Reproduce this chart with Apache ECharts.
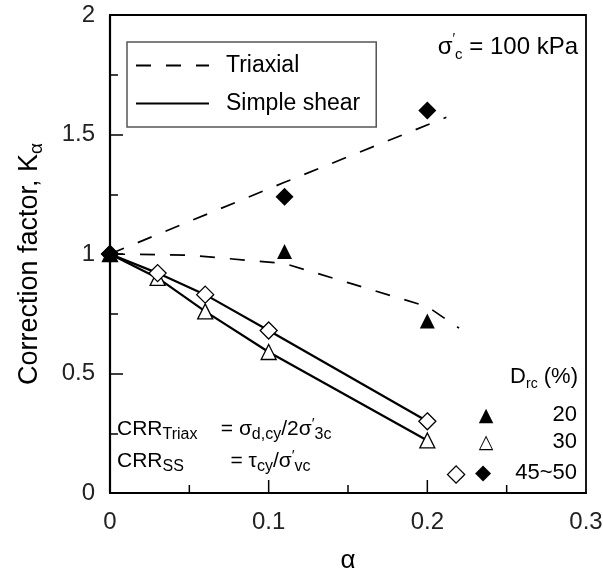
<!DOCTYPE html>
<html>
<head>
<meta charset="utf-8">
<script src="https://cdn.jsdelivr.net/npm/echarts@6/dist/echarts.min.js"></script>
<style>
  html, body { margin: 0; padding: 0; background: #fff; }
  #chart { width: 603px; height: 572px; }
</style>
</head>
<body>
<div id="chart"></div>
<script>
// 数据
const xTicks = [0, 0.1, 0.2, 0.3]
const yTicks = [0, 0.5, 1, 1.5, 2]
// x轴内侧刻度位置（主刻度 0.1/0.2，次刻度 0.05/0.15/0.25）
const xTickMarks = [0.05, 0.1, 0.15, 0.2, 0.25]

// simple shear points + lines
const ssAlpha = [0, 0.03, 0.06, 0.1, 0.2]
const ssDiamond = [1, 0.92, 0.83, 0.68, 0.30]   // D_rc 45~50, open diamond
const ssTriangle = [1, 0.90, 0.76, 0.59, 0.22]  // D_rc 30, open triangle

// triaxial points
const txAlpha = [0, 0.11, 0.2]
const txTriangle = [1, 1.01, 0.72]  // D_rc 20
const txDiamond = [1, 1.24, 1.60]   // D_rc 45~50

// triaxial dashed trend lines
const txUpAlpha = [0, 0.11, 0.212]
const txUpK = [1, 1.30, 1.572]
const txLowAlpha = [0, 0.05, 0.11, 0.15, 0.2, 0.22]
const txLowK = [1, 0.995, 0.96, 0.88, 0.78, 0.69]

const pairs = (xs, ys) => xs.map((x, i) => [x, ys[i]])

const FONT = 'Liberation Sans'
const C = '#000'
// 富文本：正文 / 下标 / 撇号
const makeRich = (main, sub) => ({
  m: { fontSize: main, fontFamily: FONT, color: C, lineHeight: main + 6 },
  s: { fontSize: sub, fontFamily: FONT, color: C, lineHeight: 10, verticalAlign: 'bottom' },
  p: { fontSize: sub - 1, fontFamily: FONT, color: C, lineHeight: 10, verticalAlign: 'top' }
})

const dashStyle = { color: C, width: 1.7, type: [15, 15] }
const solidStyle = { color: C, width: 2.2 }

const option = {
  animation: false,
  grid: {
    left: 110, right: 17, top: 15, bottom: 79,
    outerBoundsMode: 'none',
    show: true, borderColor: C, borderWidth: 1.8
  },
  legend: {
    data: ['Triaxial', 'Simple shear'],
    orient: 'vertical',
    left: 127, top: 42,
    itemWidth: 73, itemHeight: 14, itemGap: 15,
    padding: [12, 16, 12, 8],
    borderColor: '#555', borderWidth: 1.5,
    itemStyle: { opacity: 0 },
    textStyle: { fontSize: 23, fontFamily: FONT, color: C, padding: [0, 0, 0, 12] }
  },
  xAxis: {
    type: 'value', min: 0, max: 0.3, interval: 0.1,
    name: 'α', nameLocation: 'middle', nameGap: 55,
    nameTextStyle: { fontSize: 26, fontFamily: FONT, color: C },
    axisLine: { onZero: false, lineStyle: { color: C, width: 2.2 } },
    axisTick: { show: false },
    splitLine: { show: false },
    axisLabel: { fontSize: 24, fontFamily: FONT, color: '#222', margin: 17,
      formatter: v => xTicks.includes(+v.toFixed(2)) ? String(+v.toFixed(2)) : '' }
  },
  yAxis: {
    type: 'value', min: 0, max: 2, interval: 0.5,
    name: '{m|Correction factor, K}{s|α}', nameLocation: 'middle', nameGap: 64,
    nameTextStyle: { rich: makeRich(27, 19), padding: [0, 20, 0, 0] },
    axisLine: { onZero: false, lineStyle: { color: C, width: 2.2 } },
    axisTick: { inside: true, length: 13, lineStyle: { color: C, width: 1.5 } },
    minorTick: { show: true, splitNumber: 2, length: 8, lineStyle: { color: C, width: 1.5 } },
    splitLine: { show: false },
    axisLabel: { fontSize: 24, fontFamily: FONT, color: '#222', margin: 15,
      formatter: v => yTicks.includes(v) ? String(v) : '' }
  },
  graphic: [
    { type: 'text', right: 25, top: 32,
      style: { text: '{m|σ}{p|′}{s|c}{m| = 100 kPa}', rich: makeRich(24, 15) } },
    { type: 'text', right: 25, top: 366,
      style: { text: '{m|D}{s|rc}{m| (%)}', rich: makeRich(22, 14) } },
    { type: 'text', x: 486, y: 416,
      style: { text: '▲', fontSize: 19, fill: C, fontFamily: 'DejaVu Sans', align: 'center', verticalAlign: 'middle' } },
    { type: 'text', right: 26, top: 404,
      style: { text: '20', fontSize: 22, fill: C, fontFamily: FONT } },
    { type: 'text', x: 486, y: 443,
      style: { text: '△', fontSize: 19, fill: C, fontFamily: 'DejaVu Sans', align: 'center', verticalAlign: 'middle' } },
    { type: 'text', right: 26, top: 431,
      style: { text: '30', fontSize: 22, fill: C, fontFamily: FONT } },
    { type: 'text', x: 456, y: 474,
      style: { text: '◇', fontSize: 25, fill: C, fontFamily: 'DejaVu Sans', align: 'center', verticalAlign: 'middle' } },
    { type: 'text', x: 483, y: 474,
      style: { text: '◆', fontSize: 21, fill: C, fontFamily: 'DejaVu Sans', align: 'center', verticalAlign: 'middle' } },
    { type: 'text', right: 26, top: 462,
      style: { text: '45~50', fontSize: 22, fill: C, fontFamily: FONT } },
    { type: 'text', left: 117, top: 416,
      style: { text: '{m|CRR}{s|Triax}{m|    = σ}{s|d,cy}{m|/2σ}{p|′}{s|3c}', rich: makeRich(21, 16) } },
    { type: 'text', left: 117, top: 448,
      style: { text: '{m|CRR}{s|SS}{m|        = τ}{s|cy}{m|/σ}{p|′}{s|vc}', rich: makeRich(21, 16) } }
  ],
  series: [
    {
      // x轴刻度：用坐标系换算位置后画短竖线
      name: 'xTicks', type: 'custom', silent: true, z: 6,
      data: xTickMarks.map(v => [v]),
      renderItem: (params, api) => {
        const v = api.value(0)
        const p = api.coord([v, 0])
        const major = Math.abs(v * 10 - Math.round(v * 10)) < 1e-6
        const len = major ? 13 : 8
        return {
          type: 'line',
          shape: { x1: p[0], y1: p[1], x2: p[0], y2: p[1] - len },
          style: { stroke: C, lineWidth: 1.5 }
        }
      }
    },
    { name: 'Triaxial', type: 'line', data: pairs(txUpAlpha, txUpK), symbol: 'none',
      itemStyle: { color: C }, lineStyle: dashStyle, z: 2 },
    { name: 'Triaxial', type: 'line', data: pairs(txLowAlpha, txLowK), symbol: 'none',
      itemStyle: { color: C }, lineStyle: dashStyle, z: 2 },
    { name: 'Simple shear', type: 'line', data: pairs(ssAlpha, ssDiamond), symbol: 'none',
      itemStyle: { color: C }, lineStyle: solidStyle, z: 2 },
    { name: 'Simple shear', type: 'line', data: pairs(ssAlpha, ssTriangle), symbol: 'none',
      itemStyle: { color: C }, lineStyle: solidStyle, z: 2 },
    { name: 'SS 30', type: 'scatter', data: pairs(ssAlpha, ssTriangle), symbol: 'triangle',
      symbolSize: 15, itemStyle: { color: '#fff', borderColor: C, borderWidth: 1.3, opacity: 1 }, z: 3 },
    { name: 'SS 45~50', type: 'scatter', data: pairs(ssAlpha, ssDiamond), symbol: 'diamond',
      symbolSize: 17, itemStyle: { color: '#fff', borderColor: C, borderWidth: 1.3, opacity: 1 }, z: 4 },
    { name: 'TX 20', type: 'scatter', data: pairs(txAlpha, txTriangle), symbol: 'triangle',
      symbolSize: 15, itemStyle: { color: C, opacity: 1 }, z: 5 },
    { name: 'TX 45~50', type: 'scatter', data: pairs(txAlpha, txDiamond), symbol: 'diamond',
      symbolSize: 18, itemStyle: { color: C, opacity: 1 }, z: 5 }
  ]
}

const myChart = echarts.init(document.getElementById('chart'))
myChart.setOption(option, true)
</script>
</body>
</html>
